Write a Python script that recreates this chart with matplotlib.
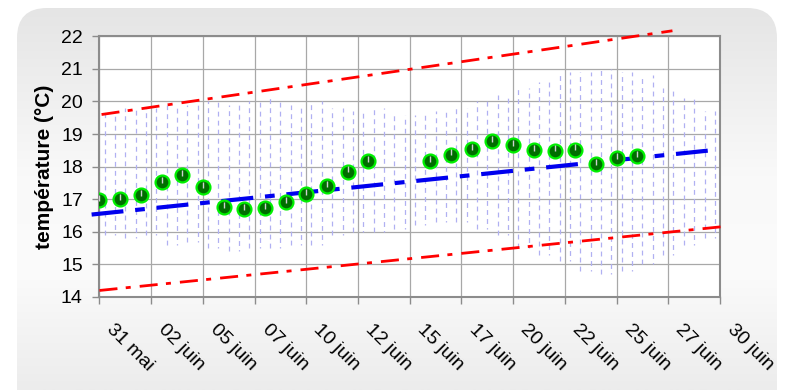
import numpy as np
import matplotlib
matplotlib.use("Agg")
import matplotlib.pyplot as plt
from matplotlib.patches import FancyBboxPatch
from matplotlib.colors import LinearSegmentedColormap
from matplotlib.transforms import ScaledTranslation

plt.rcParams['font.family'] = ['Liberation Sans', 'DejaVu Sans']
plt.rcParams['lines.scale_dashes'] = False

# axe des x : jours comptés depuis le 31 mai
tick_days = np.arange(0, 30.1, 2.5)
tick_labels = ['31 mai', '02 juin', '05 juin', '07 juin', '10 juin', '12 juin',
               '15 juin', '17 juin', '20 juin', '22 juin', '25 juin', '27 juin',
               '30 juin']

# moyennes journalières
jours_moy = [0, 1, 2, 3, 4, 5, 6, 7, 8, 9, 10, 11, 12, 13,
             16, 17, 18, 19, 20, 21, 22, 23, 24, 25, 26]
temp_moy = [16.97, 17.00, 17.12, 17.53, 17.73, 17.38, 16.75, 16.69, 16.73, 16.90,
            17.15, 17.40, 17.85, 18.16,
            18.18, 18.37, 18.53, 18.78, 18.67, 18.50, 18.49, 18.52, 18.07, 18.27, 18.32]

# enveloppe des mesures horaires (max / min par jour)
jours_env = np.arange(30)
temp_max = [19.7, 19.8, 19.8, 19.9, 19.9, 20.0, 19.9, 20.0, 20.1, 19.9,
            20.0, 19.8, 19.7, 19.8, 19.6, 19.6, 19.7, 19.8, 20.0, 20.2,
            20.4, 20.6, 20.9, 20.9, 21.0, 20.9, 20.8, 20.4, 20.1, 19.7]
temp_min = [15.9, 15.8, 15.9, 15.6, 15.7, 15.5, 15.4, 15.5, 15.5, 15.6,
            15.6, 15.9, 16.0, 16.0, 16.1, 16.2, 16.3, 16.3, 16.1, 15.9,
            15.5, 15.3, 15.1, 14.8, 14.7, 14.8, 15.0, 15.3, 15.6, 15.8]

# tendance et bornes
tend_x, tend_y = [-0.38, 29.7], [16.53, 18.51]
sup_x, sup_y = [0.1, 27.7], [19.60, 22.17]
inf_x, inf_y = [0.0, 30.3], [14.20, 16.17]

fig = plt.figure(figsize=(7.87, 3.90), dpi=100)

# fond arrondi en dégradé
bg = fig.add_axes([0, 0, 1, 1])
bg.set_xlim(0, 787)
bg.set_ylim(390, 0)
bg.axis('off')
box = FancyBboxPatch((17, 8), 760, 440, boxstyle='round,pad=0,rounding_size=30',
                     fc='none', ec='none')
bg.add_patch(box)
cmap = LinearSegmentedColormap.from_list('fond', [(0, '#e4e4e4'), (0.45, '#f9f9f9'),
                                                  (0.7, '#fbfbfb'), (1, '#ececec')])
grad = np.linspace(0, 1, 256).reshape(-1, 1)
im = bg.imshow(grad, extent=(0, 787, 390, 0), aspect='auto', cmap=cmap, zorder=0)
im.set_clip_path(box)

ax = fig.add_axes([0.1264, 0.2385, 0.7885, 0.6684])
ax.set_facecolor('white')

# mesures horaires : deux colonnes pointillées par jour
ax.vlines(jours_env + 0.25, temp_min, temp_max, colors='#b0b0f2', lw=0.9,
          linestyles=[(0, (3.5, 3.0))], zorder=2)
ax.vlines(jours_env + 0.75, temp_min, temp_max, colors='#b0b0f2', lw=0.9,
          linestyles=[(2.5, (3.5, 3.0))], zorder=2)

ax.plot(tend_x, tend_y, color='#0000ee', lw=3.0, dashes=(23, 8.5, 7, 8.5),
        solid_capstyle='butt', dash_capstyle='butt', clip_on=False, zorder=3)
ax.plot(sup_x, sup_y, color='#ff0000', lw=2.0, dashes=(13, 6, 3.6, 6.5),
        dash_capstyle='butt', clip_on=False, zorder=4)
ax.plot(inf_x, inf_y, color='#ff0000', lw=2.0, dashes=(13, 6, 3.6, 6.5),
        dash_capstyle='butt', clip_on=False, zorder=4)

ax.plot(jours_moy, temp_moy, 'o', ms=10, mfc='#006e00', mec='#00f000', mew=1.6,
        zorder=5)
ax.plot(jours_moy, np.array(temp_moy) + 0.07, '|', ms=5, mec='#d0d0d0', mew=1.0,
        zorder=6)

ax.set_xlim(0, 30)
ax.set_ylim(14, 22)
ax.set_xticks(tick_days)
ax.set_xticklabels(tick_labels, rotation=-45, ha='left', va='top', fontsize=14)
ax.set_yticks(range(14, 23))
ax.tick_params(axis='y', labelsize=14, pad=7)
ax.tick_params(axis='x', pad=12)
ax.tick_params(direction='out', length=5, width=1, color='#8c8c8c')
for lab in ax.get_xticklabels():
    lab.set_transform(lab.get_transform() + ScaledTranslation(3 / 72, 0, fig.dpi_scale_trans))

ax.grid(True, color='#a8a8a8', lw=0.9)
ax.set_axisbelow(True)
for s in ax.spines.values():
    s.set_color('#8c8c8c')
    s.set_linewidth(1.5)

ax.set_ylabel('température (°C)', fontsize=15, fontweight='bold')
ax.yaxis.set_label_coords(-0.073, 0.5)

fig.savefig('out.png', dpi=100)
